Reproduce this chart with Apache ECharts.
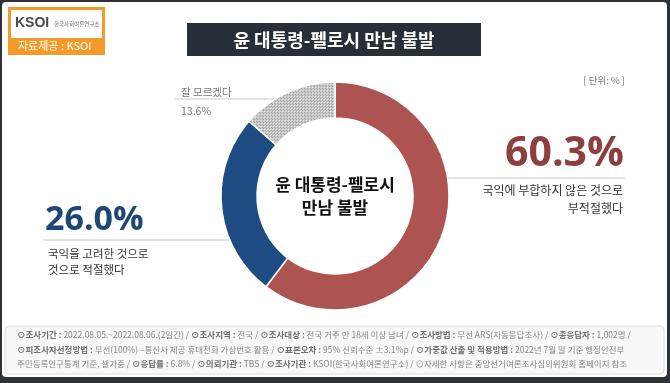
<!DOCTYPE html>
<html><head><meta charset="utf-8">
<script src="https://cdn.jsdelivr.net/npm/echarts@6/dist/echarts.min.js"></script>
<style>html,body{margin:0;padding:0;background:#2e3236;}#c{width:670px;height:383px;}</style>
</head><body><div id="c"></div>
<script>
var categories = ['국익에 부합하지 않은 것으로 부적절했다', '국익을 고려한 것으로 적절했다', '잘 모르겠다'];
var values = [60.3, 26.0, 13.6];
var sliceColors = ['#ad5451', '#1d4b82', null];
var titleText = '윤 대통령-펠로시 만남 불발';
var centerLines = ['윤 대통령-펠로시', '만남 불발'];
var unitText = '[ 단위: % ]';

var pc = document.createElement('canvas'); pc.width = 3; pc.height = 3;
var g = pc.getContext('2d');
g.fillStyle = '#c8c8c8'; g.fillRect(0,0,3,3);
g.fillStyle = '#e8e8e8'; g.fillRect(0,0,1,1);
g.fillStyle = '#a4a4a4'; g.fillRect(1,1,1,1); g.fillRect(2,2,1,1);
var pattern = {image: pc, repeat: 'repeat'};

var F = '"Noto Sans CJK KR", "Noto Sans", sans-serif';
var chart = echarts.init(document.getElementById('c'));
var data = values.map(function(v,i){
  return {name: categories[i], value: v, itemStyle: {color: sliceColors[i] || pattern}};
});
function pct(v){ return v.toFixed(1) + '%'; }

var footerLines = [
 [['b','⊙조사기간 : '],['n','2022.08.05.~2022.08.06.(2일간) / '],['b','⊙조사지역 : '],['n','전국 / '],['b','⊙조사대상 : '],['n','전국 거주 만 18세 이상 남녀 / '],['b','⊙조사방법 : '],['n','무선 ARS(자동응답조사) / '],['b','⊙총응답자 : '],['n','1,002명 /']],
 [['b','⊙피조사자선정방법 : '],['n','무선(100%) –통신사 제공 휴대전화 가상번호 활용 / '],['b','⊙표본오차 : '],['n','95% 신뢰수준 ±3.1%p / '],['b','⊙가중값 산출 및 적용방법 : '],['n','2022년 7월 말 기준 행정안전부']],
 [['n','주민등록인구통계 기준, 셀가중 / '],['b','⊙응답률 : '],['n','6.8% / '],['b','⊙의뢰기관 : '],['n','TBS / '],['b','⊙조사기관 : '],['n','KSOI(한국사회여론연구소) / ⊙자세한 사항은 중앙선거여론조사심의위원회 홈페이지 참조']]
];
var footerEls = footerLines.map(function(line, i){
  return {type:'text', left: 17, top: 331 + i*14.2, style:{
    text: line.map(function(p){ return '{' + p[0] + '|' + p[1] + '}'; }).join(''),
    rich: {b:{fontSize:8.5, fontWeight:'bold', fill:'#707070', fontFamily:F}, n:{fontSize:8.5, fill:'#858585', fontFamily:F}}
  }};
});

chart.setOption({
  backgroundColor: '#2e3236',
  animation: false,
  graphic: [
    {type:'rect', shape:{x:2, y:2, width:665, height:375, r:4}, style:{fill:'#ffffff'}, z:-10},
    {type:'rect', shape:{x:5, y:326, width:659, height:48, r:4}, style:{fill:'#f8f8f8', stroke:'#dcdcdc', lineWidth:1}, z:-5},
    // logo
    {type:'rect', shape:{x:8, y:7, width:97, height:48}, style:{fill:'#f39a2a'}},
    {type:'rect', shape:{x:11, y:10, width:91, height:28}, style:{fill:'#ffffff'}},
    {type:'text', left:15, top:16, style:{text:'KSOI', fontSize:14, fontWeight:'bold', fill:'#4a4a4a', fontFamily:'"Liberation Sans", sans-serif'}},
    {type:'text', left:54, top:21, style:{text:'한국사회여론연구소', fontSize:5.5, fill:'#666', fontFamily:F}},
    {type:'text', left:18, top:40, style:{text:'자료제공 : KSOI', fontSize:11, fill:'#ffffff', fontFamily:F}},
    // title
    {type:'rect', shape:{x:187, y:23, width:294, height:33}, style:{fill:'#273038'}},
    {type:'text', x:334, y:40, style:{text:titleText, fontSize:18, fontWeight:'bold', fill:'#ffffff', fontFamily:F, align:'center', verticalAlign:'middle'}},
    {type:'text', x:625, y:80, style:{text:unitText, fontSize:9.5, fill:'#777', fontFamily:F, align:'right', verticalAlign:'middle'}},
    // center text
    {type:'text', x:335, y:185, style:{text:centerLines[0], fontSize:17, fontWeight:'bold', fill:'#111', fontFamily:F, align:'center', verticalAlign:'middle'}},
    {type:'text', x:335, y:208, style:{text:centerLines[1], fontSize:17, fontWeight:'bold', fill:'#111', fontFamily:F, align:'center', verticalAlign:'middle'}},
    // red label
    {type:'text', x:624, y:154, style:{text:pct(values[0]), fontSize:41, fontWeight:'bold', fill:'#8e3e3e', fontFamily:'"Open Sans", sans-serif', align:'right', verticalAlign:'middle'}},
    {type:'line', shape:{x1:440, y1:178, x2:625, y2:178}, style:{stroke:'#c8c8c8', lineWidth:1}},
    {type:'text', x:623, y:190, style:{text:'국익에 부합하지 않은 것으로', fontSize:12, fill:'#333', fontFamily:F, align:'right', verticalAlign:'middle'}},
    {type:'text', x:623, y:208, style:{text:'부적절했다', fontSize:12, fill:'#333', fontFamily:F, align:'right', verticalAlign:'middle'}},
    // blue label
    {type:'text', x:45, y:220, style:{text:pct(values[1]), fontSize:34, fontWeight:'bold', fill:'#1f4775', fontFamily:'"Open Sans", sans-serif', align:'left', verticalAlign:'middle'}},
    {type:'line', shape:{x1:43, y1:240, x2:232, y2:240}, style:{stroke:'#c8c8c8', lineWidth:1}},
    {type:'text', x:48, y:254, style:{text:'국익을 고려한 것으로', fontSize:11.5, fill:'#333', fontFamily:F, align:'left', verticalAlign:'middle'}},
    {type:'text', x:48, y:270, style:{text:'것으로 적절했다', fontSize:11.5, fill:'#333', fontFamily:F, align:'left', verticalAlign:'middle'}},
    // gray label
    {type:'text', x:181, y:92, style:{text:categories[2], fontSize:10.5, fill:'#777', fontFamily:F, align:'left', verticalAlign:'middle'}},
    {type:'text', x:181, y:111, style:{text:pct(values[2]), fontSize:10.5, fill:'#777', fontFamily:F, align:'left', verticalAlign:'middle'}},
    {type:'polyline', shape:{points:[[175,99],[274,99],[290,113]]}, style:{stroke:'#c8c8c8', lineWidth:1, fill:null}}
  ].concat(footerEls),
  series: [{
    type: 'pie',
    center: [335, 196],
    radius: [78, 114],
    startAngle: 90,
    clockwise: true,
    label: {show:false},
    labelLine: {show:false},
    itemStyle: {borderColor:'#ffffff', borderWidth:1.5},
    emphasis: {disabled:true},
    data: data
  }]
});
</script></body></html>
